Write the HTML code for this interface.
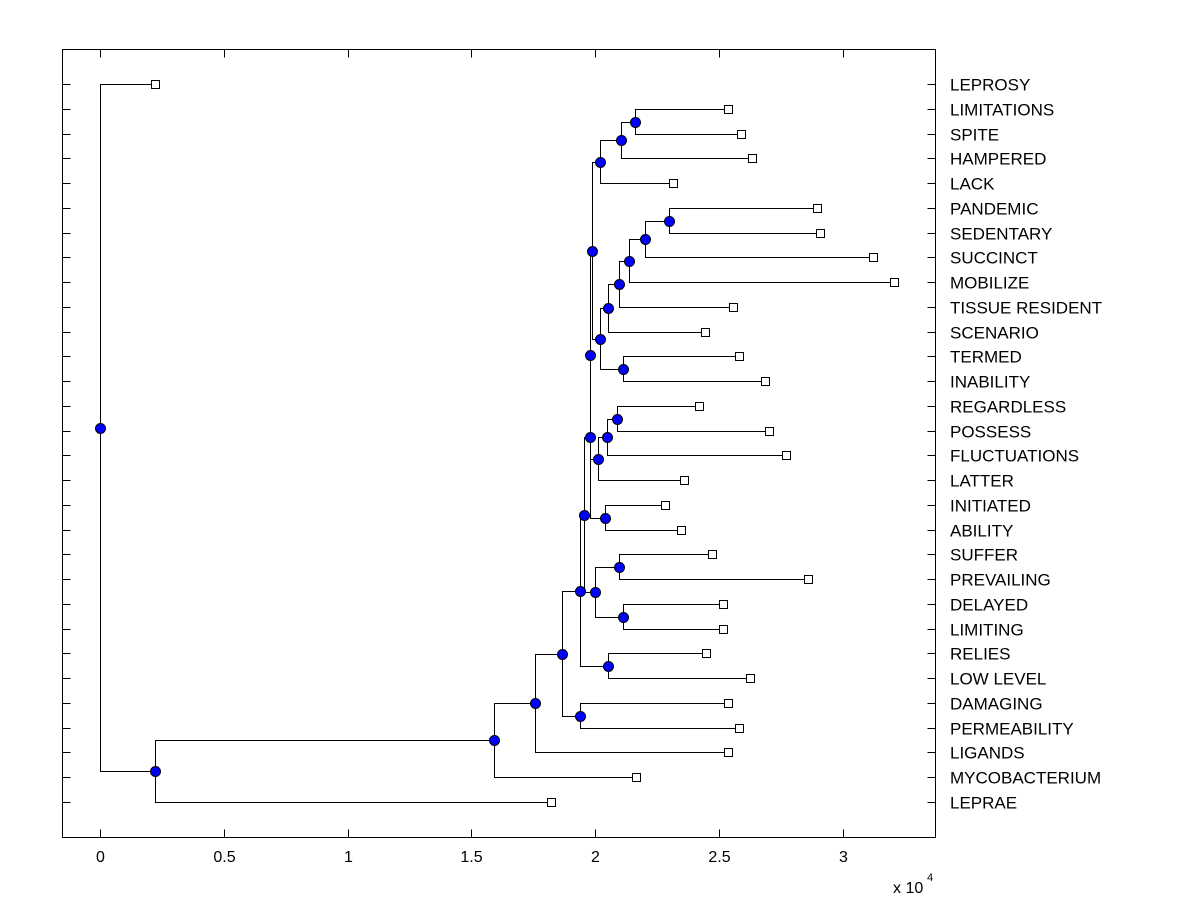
<!DOCTYPE html>
<html><head><meta charset="utf-8"><style>
body{margin:0;background:#fff;}
svg{display:block;font-family:"Liberation Sans",Arial,sans-serif;}
</style></head><body>
<svg id="chart" width="1200" height="900" shape-rendering="crispEdges"></svg>
<script>
const leafNames=["LEPROSY","LIMITATIONS","SPITE","HAMPERED","LACK","PANDEMIC","SEDENTARY","SUCCINCT","MOBILIZE","TISSUE RESIDENT","SCENARIO","TERMED","INABILITY","REGARDLESS","POSSESS","FLUCTUATIONS","LATTER","INITIATED","ABILITY","SUFFER","PREVAILING","DELAYED","LIMITING","RELIES","LOW LEVEL","DAMAGING","PERMEABILITY","LIGANDS","MYCOBACTERIUM","LEPRAE"];
const leafDist=[2240,25380,25900,26350,23160,28940,29060,31200,32050,25580,24450,25790,26840,24210,27000,27690,23570,22800,23480,24700,28610,25180,25180,24490,26270,25380,25790,25380,21630,18230];
// internal nodes: [id, child1, child2, distance]; children: "L<index>" leaf or node id
const nodes=[
["N3","L1","L2",21590],["N2","N3","L3",21060],["N1","N2","L4",20210],
["U","L5","L6",23000],["T","U","L7",22030],["S","T","L8",21380],["R","S","L9",20980],["Q","R","L10",20500],
["V","L11","L12",21140],["P","Q","V",20210],["M","N1","P",19890],
["Y","L13","L14",20900],["X","Y","L15",20460],["W","X","L16",20130],["K","M","W",19810],
["Z","L17","L18",20380],["J","K","Z",19770],
["I1","L19","L20",20980],["I2","L21","L22",21140],["I","I1","I2",20010],["G","J","I",19530],
["H","L23","L24",20500],["E","G","H",19370],["F","L25","L26",19370],["D","E","F",18640],
["C","D","L27",17550],["B","C","L28",15930],["A","B","L29",2240],["ROOT","L0","A",0]];
const xTicks=[0,5000,10000,15000,20000,25000,30000];
const xTickLabels=["0","0.5","1","1.5","2","2.5","3"];

const NS="http://www.w3.org/2000/svg";
const svg=document.getElementById('chart');
const L=62.5,R=935.5,T=49.5,B=837.5;
const X=v=>Math.round(100+v*(247.6/10000))+0.5;
const Y=i=>Math.round(84+i*((802-84)/29))+0.5;
function mk(tag,attrs,parent){const e=document.createElementNS(NS,tag);for(const k in attrs)e.setAttribute(k,attrs[k]);(parent||svg).appendChild(e);return e;}
mk('rect',{x:L,y:T,width:R-L,height:B-T,fill:'#fff',stroke:'#000','stroke-width':1});
const pos={};
leafNames.forEach((n,i)=>{pos['L'+i]={x:X(leafDist[i]),y:Y(i)};});
nodes.forEach(n=>{const a=pos[n[1]],b=pos[n[2]];pos[n[0]]={x:X(n[3]),y:Math.round((a.y+b.y)/2-0.5)+0.5};});
const gl=mk('g',{});


nodes.forEach(n=>{const p=pos[n[0]],a=pos[n[1]],b=pos[n[2]];
 const pth=mk('path',{d:`M${a.x},${a.y}H${p.x}V${b.y}H${b.x}`,fill:'none',stroke:'#000','stroke-width':1},gl);
 
 
});
for(let i=0;i<leafNames.length;i++){const y=Y(i);
 mk('line',{x1:L,x2:L+8,y1:y,y2:y,stroke:'#000'});mk('line',{x1:R-8,x2:R,y1:y,y2:y,stroke:'#000'});
 const t=mk('text',{x:950,y:y+6,'font-size':17,fill:'#000','shape-rendering':'auto'});t.textContent=leafNames[i];
 
 
}
xTicks.forEach((v,i)=>{const x=X(v);
 mk('line',{x1:x,x2:x,y1:B,y2:B-8,stroke:'#000'});mk('line',{x1:x,x2:x,y1:T,y2:T+8,stroke:'#000'});
 const t=mk('text',{x:x,y:862,'font-size':16,'text-anchor':'middle',fill:'#000'});t.textContent=xTickLabels[i];
 
 
});
const ex=mk('text',{x:893,y:893,'font-size':16,fill:'#000'});ex.textContent='x 10';


const sup=mk('text',{x:927,y:881,'font-size':11,fill:'#000'});sup.textContent='4';


nodes.forEach(n=>{const p=pos[n[0]];
 const c=mk('circle',{cx:p.x,cy:p.y,r:5,fill:'#0000ff',stroke:'#000','stroke-width':1,'shape-rendering':'auto'});
 
 
});
leafNames.forEach((n,i)=>{const p=pos['L'+i];
 const s=mk('rect',{x:p.x-4,y:p.y-4,width:8,height:8,fill:'#fff',stroke:'#000','stroke-width':1});
 
 
});
</script>
</body></html>
